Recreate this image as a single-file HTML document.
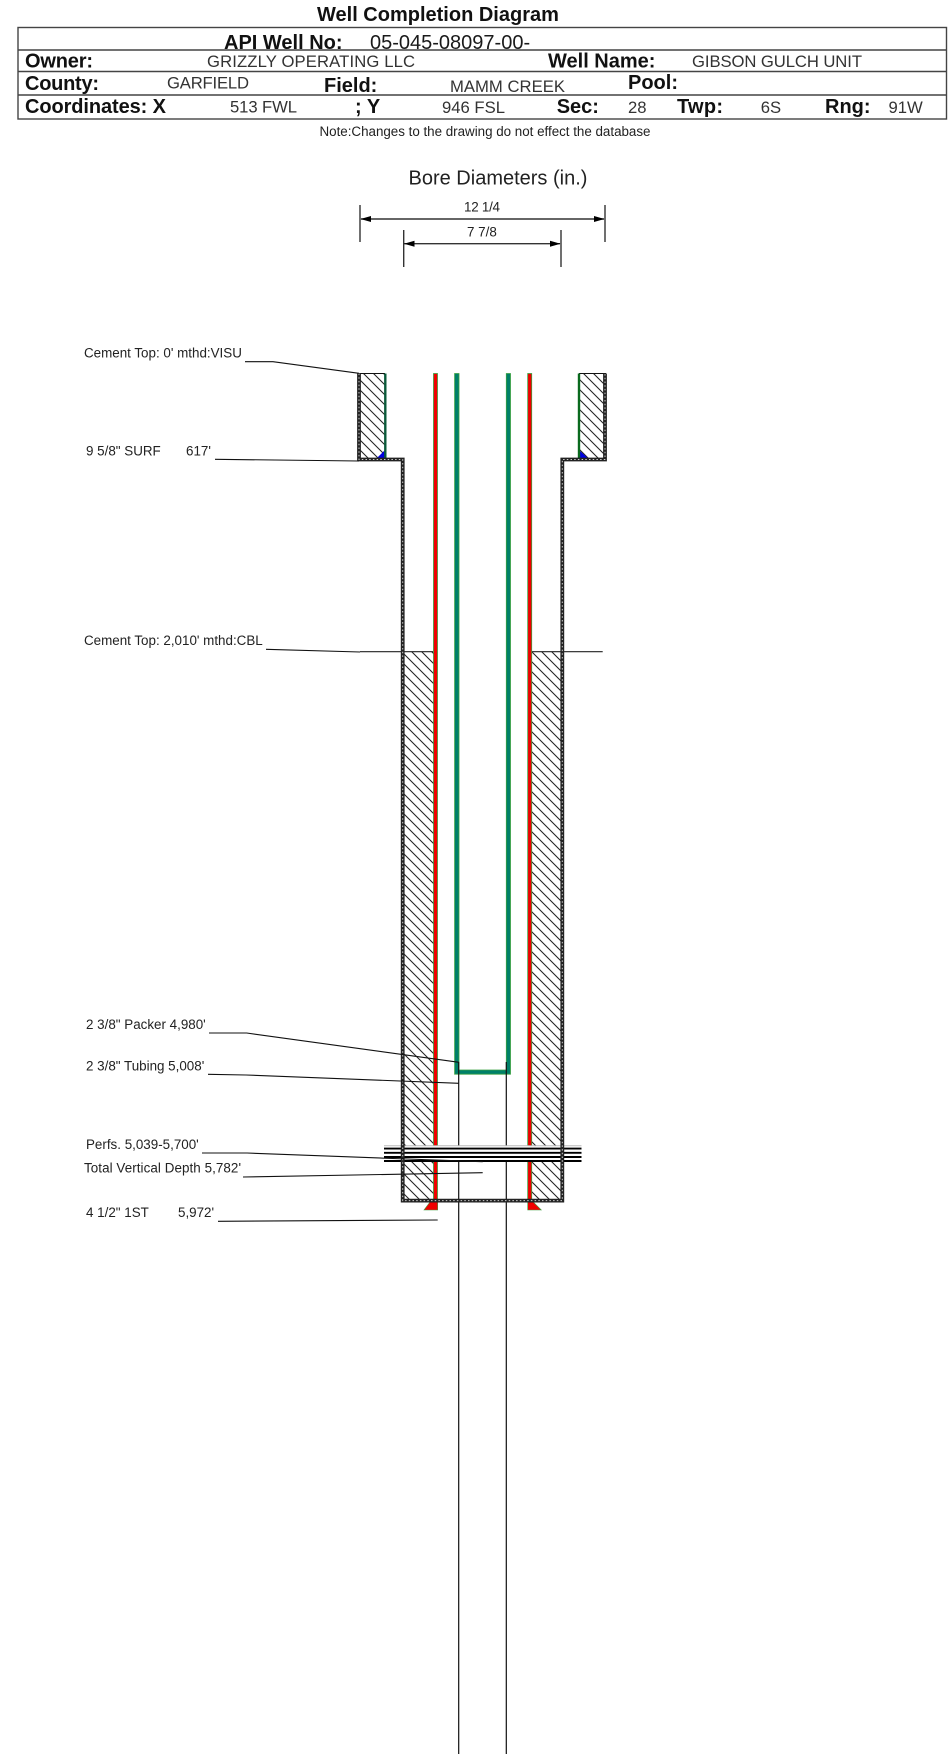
<!DOCTYPE html>
<html><head><meta charset="utf-8"><style>
html,body{margin:0;padding:0;background:#fff}
svg{display:block}
text{font-family:"Liberation Sans",Arial,sans-serif;fill:#1a1a1a}
.b{font-weight:bold;font-size:20px;fill:#111}
.v{font-size:16.67px;fill:#333}
.l{font-size:13.4px;fill:#222}
.t{stroke:#111;stroke-width:1.1;fill:none}
</style></head><body>
<svg width="948" height="1754" viewBox="0 0 948 1754" xmlns="http://www.w3.org/2000/svg">
<defs>
<pattern id="h" patternUnits="userSpaceOnUse" width="10" height="10">
<path d="M-1 -1L11 11M-1 9L1 11M9 -1L11 1" stroke="#222" stroke-width="1.05"/>
</pattern>
</defs>
<rect width="948" height="1754" fill="#fff"/>

<!-- header -->
<text class="b" x="317" y="21">Well Completion Diagram</text>
<g fill="none" stroke="#444" stroke-width="1.4">
<rect x="18" y="27.5" width="928.5" height="91.5"/>
<path d="M18 50H946.5M18 71.5H946.5M18 95H946.5"/>
</g>
<text class="b" x="224" y="49">API Well No:</text>
<text x="370" y="49" style="font-size:20px">05-045-08097-00-</text>
<text class="b" x="25" y="67.5" textLength="68">Owner:</text>
<text class="v" x="207" y="67" textLength="208">GRIZZLY OPERATING LLC</text>
<text class="b" x="548" y="67.5">Well Name:</text>
<text class="v" x="692" y="67" textLength="170">GIBSON GULCH UNIT</text>
<text class="b" x="25" y="90" textLength="74">County:</text>
<text class="v" x="167" y="88.5" textLength="82">GARFIELD</text>
<text class="b" x="324" y="92">Field:</text>
<text class="v" x="450" y="92" textLength="115">MAMM CREEK</text>
<text class="b" x="628" y="89">Pool:</text>
<text class="b" x="25" y="113" textLength="141">Coordinates: X</text>
<text class="v" x="230" y="112.7" textLength="67">513 FWL</text>
<text class="b" x="355" y="113">; Y</text>
<text class="v" x="442" y="113" textLength="63">946 FSL</text>
<text class="b" x="556.7" y="113">Sec:</text>
<text class="v" x="628" y="113">28</text>
<text class="b" x="677" y="113" textLength="46">Twp:</text>
<text class="v" x="760.7" y="113">6S</text>
<text class="b" x="825" y="113">Rng:</text>
<text class="v" x="888.5" y="113">91W</text>
<text x="319.5" y="136" textLength="331" style="font-size:13.4px;fill:#222">Note:Changes to the drawing do not effect the database</text>

<!-- bore diameters -->
<text x="408.5" y="184.5" style="font-size:20px;fill:#222">Bore Diameters (in.)</text>
<text class="l" x="464" y="211.5" textLength="36">12 1/4</text>
<text class="l" x="467" y="236.5">7 7/8</text>
<g stroke="#333" stroke-width="1.4" fill="none">
<path d="M360 205V242M605 205V242M403.7 230V267M561 230V267"/>
<path d="M361 219H604M404 243.7H560"/>
</g>
<g fill="#000">
<path d="M360.5 219L371 216V222ZM604.5 219L594 216V222Z"/>
<path d="M404 243.7L414.5 240.7V246.7ZM560.5 243.7L550 240.7V246.7Z"/>
</g>

<!-- upper cement blocks -->
<rect x="360" y="373.5" width="25" height="85" fill="url(#h)"/>
<rect x="579" y="373.5" width="26" height="85" fill="url(#h)"/>
<path d="M359 373.5H385M579 373.5H606" class="t"/>
<path d="M376.7 458.3L385 450V458.3Z" fill="#0000e0"/>
<path d="M579 450L588 458.3H579Z" fill="#0000e0"/>
<path d="M385.3 373.5V459" stroke="#0a5a3a" stroke-width="2.4"/>
<path d="M579 373.5V459" stroke="#0a6a1e" stroke-width="2.4"/>

<!-- main cement -->
<rect x="404" y="651.5" width="29.5" height="548" fill="url(#h)"/>
<rect x="531.5" y="651.5" width="30" height="548" fill="url(#h)"/>
<path d="M360 651.7H433M532 651.7H602.7" stroke="#222" stroke-width="1.1"/>

<!-- tubes -->
<g stroke="#3aa040" stroke-width="0.8">
<rect x="433.5" y="373.5" width="4" height="826.5" fill="#f00000"/>
<rect x="527.7" y="373.5" width="4" height="826.5" fill="#f00000"/>
<path d="M454.6 373.5H459V1070H506.3V373.5H510.5V1074.2H454.6Z" fill="#008068"/>
</g>

<!-- tubing lines -->
<path d="M458.7 1062V1754M506.3 1062V1754" stroke="#111" stroke-width="1.2"/>

<!-- shoes -->
<path d="M430 1202H437.7V1210H424Z" fill="#f00000" stroke="#3aa040" stroke-width="0.6"/>
<path d="M527.7 1202H533.3L541.3 1210H527.7Z" fill="#f00000" stroke="#3aa040" stroke-width="0.6"/>

<!-- perfs -->
<rect x="384" y="1146" width="197.5" height="15.5" fill="#fff"/>
<path d="M384 1145.8H581.5" stroke="#bbb" stroke-width="1"/>
<path d="M384 1148.6H581.5M384 1152.8H581.5M384 1157H581.5M384 1161H581.5" stroke="#000" stroke-width="1.9"/>

<!-- casing walls -->
<g fill="none">
<path d="M359 373.5V459.5H402.7V1200.6H562.3V459.5H605V373.5" stroke="#222" stroke-width="3.8"/>
<path d="M359 373.5V459.5H402.7V1200.6H562.3V459.5H605V373.5" stroke="#ccc" stroke-width="1" stroke-dasharray="1.5 2.2"/>
</g>

<!-- leaders -->
<g class="t">
<path d="M245 361.7H273L359 373.3"/>
<path d="M215 459.3L359 461"/>
<path d="M266 649.3L360 652"/>
<path d="M209 1033H246.7L459 1062.3"/>
<path d="M208 1074.3L246 1075L459 1083.3"/>
<path d="M202 1153H247L393 1158.5L482.7 1161.7"/>
<path d="M243 1177L482.7 1172.7"/>
<path d="M218 1221.3L437.7 1220"/>
</g>

<!-- labels -->
<text class="l" x="84" y="357.5">Cement Top: 0' mthd:VISU</text>
<text class="l" x="86" y="455.5">9 5/8" SURF</text>
<text class="l" x="186" y="455.5">617'</text>
<text class="l" x="84" y="645">Cement Top: 2,010' mthd:CBL</text>
<text class="l" x="86" y="1029">2 3/8" Packer 4,980'</text>
<text class="l" x="86" y="1070.3">2 3/8" Tubing 5,008'</text>
<text class="l" x="86" y="1149">Perfs. 5,039-5,700'</text>
<text class="l" x="84" y="1172.7" textLength="157">Total Vertical Depth 5,782'</text>
<text class="l" x="86" y="1217">4 1/2" 1ST</text>
<text class="l" x="178" y="1217">5,972'</text>
</svg>
</body></html>
